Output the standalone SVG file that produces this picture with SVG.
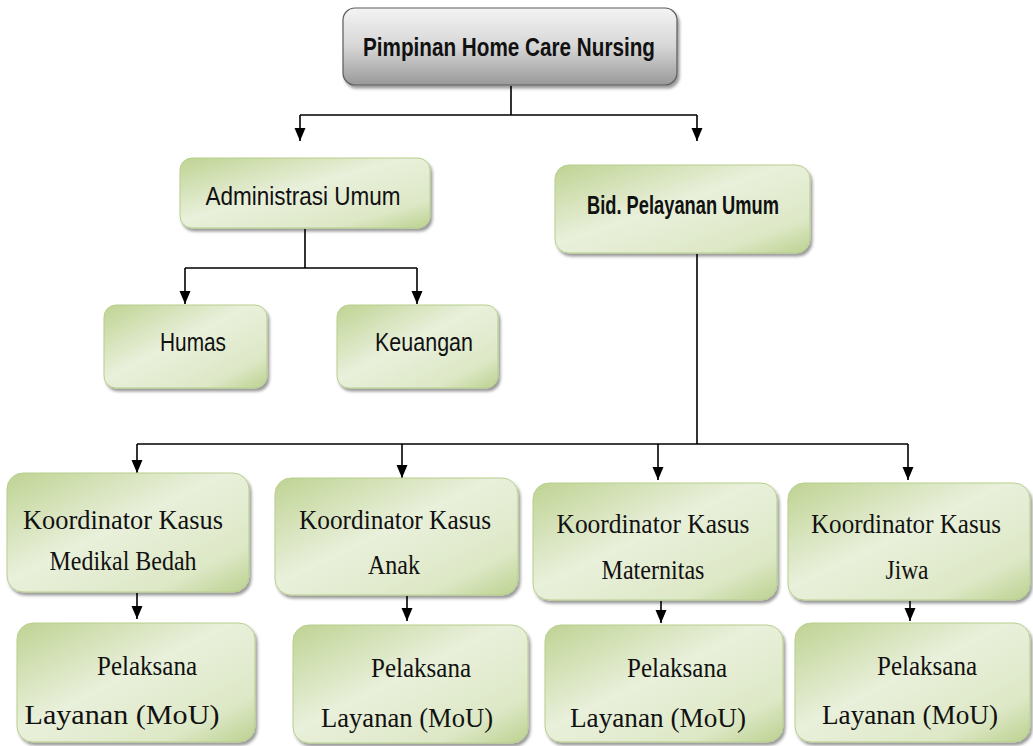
<svg xmlns="http://www.w3.org/2000/svg" width="1033" height="746" viewBox="0 0 1033 746">
<defs>
<linearGradient id="gGreen" x1="0" y1="0" x2="1" y2="1">
<stop offset="0" stop-color="#bfd393"/>
<stop offset="0.45" stop-color="#e9f0db"/>
<stop offset="0.8" stop-color="#dde8c6"/>
<stop offset="1" stop-color="#bcd190"/>
</linearGradient>
<linearGradient id="gGray" x1="0" y1="0" x2="0" y2="1">
<stop offset="0" stop-color="#f4f4f4"/>
<stop offset="0.5" stop-color="#d6d6d6"/>
<stop offset="1" stop-color="#999"/>
</linearGradient>
<filter id="sh" x="-10%" y="-10%" width="125%" height="130%">
<feDropShadow dx="2" dy="3" stdDeviation="1.8" flood-color="#000" flood-opacity="0.4"/>
</filter>
<marker id="arr" markerUnits="userSpaceOnUse" markerWidth="14" markerHeight="12" refX="13" refY="5.5" orient="auto">
<path d="M0,0 L13,5.5 L0,11 Z" fill="#000"/>
</marker>
</defs>
<style>
.g{fill:url(#gGreen);stroke:#b7cf8c;stroke-width:1;filter:url(#sh)}
.gr{fill:url(#gGray);stroke:#5a5a5a;stroke-width:1.2;filter:url(#sh)}
.c{fill:none;stroke:#000;stroke-width:1.6}
.a{marker-end:url(#arr)}
.sb{font-family:"Liberation Sans",Arial,sans-serif;font-weight:bold;font-size:26px;fill:#111;text-anchor:middle}
.s{font-family:"Liberation Sans",Arial,sans-serif;font-size:26px;fill:#111;text-anchor:middle}
.t{font-family:"Liberation Serif","Times New Roman",serif;font-size:28px;fill:#111;text-anchor:middle}
</style>
<g id="connectors">
<path class="c" d="M511 86 V115 M300 115 H697"/>
<path class="c a" d="M300 115 V141"/>
<path class="c a" d="M697 115 V141"/>
<path class="c" d="M305 229 V268 M185 268 H417"/>
<path class="c a" d="M185 268 V304"/>
<path class="c a" d="M417 268 V304"/>
<path class="c" d="M697 254 V444 M137 444 H908"/>
<path class="c a" d="M137 444 V473"/>
<path class="c a" d="M402 444 V478"/>
<path class="c a" d="M658 444 V480"/>
<path class="c a" d="M908 444 V480"/>
<path class="c a" d="M137 593 V619"/>
<path class="c a" d="M407 596 V621"/>
<path class="c a" d="M661 601 V623"/>
<path class="c a" d="M910 601 V621"/>
</g>
<g id="pimpinan">
<rect class="gr" x="343" y="8" width="334" height="77" rx="12"/>
<text class="sb" x="509" y="56" textLength="292" lengthAdjust="spacingAndGlyphs">Pimpinan Home Care Nursing</text>
</g>
<g id="administrasi">
<rect class="g" x="180" y="158" width="250" height="70" rx="12"/>
<text class="s" x="303" y="205" textLength="195" lengthAdjust="spacingAndGlyphs">Administrasi Umum</text>
</g>
<g id="bidang">
<rect class="g" x="555" y="165" width="255" height="88" rx="14"/>
<text class="sb" x="683" y="214" textLength="192" lengthAdjust="spacingAndGlyphs">Bid. Pelayanan Umum</text>
</g>
<g id="humas">
<rect class="g" x="104" y="305" width="163" height="83" rx="12"/>
<text class="s" x="193" y="351" textLength="66" lengthAdjust="spacingAndGlyphs">Humas</text>
</g>
<g id="keuangan">
<rect class="g" x="337" y="305" width="161" height="83" rx="12"/>
<text class="s" x="424" y="351" textLength="98" lengthAdjust="spacingAndGlyphs">Keuangan</text>
</g>
<g id="koord-medikal">
<rect class="g" x="7" y="473" width="242" height="119" rx="16"/>
<text class="t" x="123" y="529" textLength="200" lengthAdjust="spacingAndGlyphs">Koordinator Kasus</text>
<text class="t" x="123" y="570" textLength="147" lengthAdjust="spacingAndGlyphs">Medikal Bedah</text>
</g>
<g id="koord-anak">
<rect class="g" x="275" y="478" width="243" height="117" rx="16"/>
<text class="t" x="395" y="529" textLength="192" lengthAdjust="spacingAndGlyphs">Koordinator Kasus</text>
<text class="t" x="394" y="574" textLength="52" lengthAdjust="spacingAndGlyphs">Anak</text>
</g>
<g id="koord-maternitas">
<rect class="g" x="533" y="483" width="244" height="117" rx="16"/>
<text class="t" x="653" y="533" textLength="193" lengthAdjust="spacingAndGlyphs">Koordinator Kasus</text>
<text class="t" x="653" y="579" textLength="103" lengthAdjust="spacingAndGlyphs">Maternitas</text>
</g>
<g id="koord-jiwa">
<rect class="g" x="788" y="483" width="242" height="117" rx="16"/>
<text class="t" x="906" y="533" textLength="190" lengthAdjust="spacingAndGlyphs">Koordinator Kasus</text>
<text class="t" x="907" y="579" textLength="43" lengthAdjust="spacingAndGlyphs">Jiwa</text>
</g>
<g id="pelaksana-1">
<rect class="g" x="17" y="623" width="238" height="119" rx="16"/>
<text class="t" x="147" y="675" textLength="100" lengthAdjust="spacingAndGlyphs">Pelaksana</text>
<text class="t" x="122" y="724" textLength="195" lengthAdjust="spacingAndGlyphs">Layanan  (MoU)</text>
</g>
<g id="pelaksana-2">
<rect class="g" x="293" y="625" width="235" height="118" rx="16"/>
<text class="t" x="421" y="677" textLength="100" lengthAdjust="spacingAndGlyphs">Pelaksana</text>
<text class="t" x="407" y="727" textLength="172" lengthAdjust="spacingAndGlyphs">Layanan  (MoU)</text>
</g>
<g id="pelaksana-3">
<rect class="g" x="545" y="625" width="238" height="117" rx="16"/>
<text class="t" x="677" y="677" textLength="100" lengthAdjust="spacingAndGlyphs">Pelaksana</text>
<text class="t" x="658" y="727" textLength="176" lengthAdjust="spacingAndGlyphs">Layanan  (MoU)</text>
</g>
<g id="pelaksana-4">
<rect class="g" x="795" y="623" width="235" height="119" rx="16"/>
<text class="t" x="927" y="675" textLength="100" lengthAdjust="spacingAndGlyphs">Pelaksana</text>
<text class="t" x="910" y="724" textLength="176" lengthAdjust="spacingAndGlyphs">Layanan  (MoU)</text>
</g>
</svg>
